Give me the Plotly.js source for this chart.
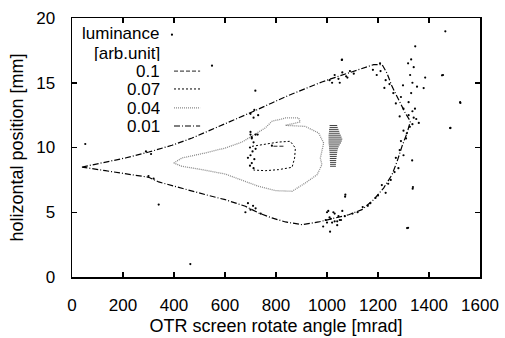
<!DOCTYPE html>
<html>
<head>
<meta charset="utf-8">
<script src="https://cdn.plot.ly/plotly-3.0.1.min.js"></script>
<style>html,body{margin:0;padding:0;background:#fff;}#chart{width:505px;height:338px;}</style>
</head>
<body>
<div id="chart"></div>
<script>
// contour level labels
const levels = ["0.1", "0.07", "0.04", "0.01"];

// luminance 0.01 contour (outer)
const c001_x = [39,131,209,301,392,471,549,627,706,784,850,915,980,1033,1085,1137,1183,1216,1235,1255,1281,1307,1327,1314,1294,1275,1255,1222,1183,1137,1085,1033,967,902,837,784,732,680,601,523,431,340,301,209,131,39];
const c001_y = [8.49,8.88,9.19,9.65,10.17,10.73,11.38,12.07,12.74,13.44,14.03,14.54,15.06,15.42,15.75,16.09,16.40,16.40,15.75,14.72,13.69,12.66,12.02,11.12,10.09,8.93,7.90,6.87,5.97,5.20,4.81,4.56,4.25,4.04,4.25,4.56,4.94,5.46,5.97,6.36,6.87,7.34,7.70,7.95,8.21,8.49];

// luminance 0.04 contour
const c004_x = [399,431,523,601,667,712,758,784,837,889,895,837,915,967,987,974,980,961,915,863,797,732,680,601,510,431,399];
const c004_y = [8.80,9.19,9.58,9.96,10.42,10.99,11.51,12.02,12.28,12.28,11.97,11.71,11.63,11.12,10.35,9.19,8.67,7.90,7.26,6.62,6.67,7.00,7.39,7.95,8.29,8.55,8.80];

// luminance 0.07 contour
const c007_x = [706,758,810,856,876,873,863,810,758,712];
const c007_y = [10.09,10.27,10.42,10.48,9.96,9.19,8.47,8.29,8.21,8.26];

// luminance 0.1 contour
const c01_x = [790,830];
const c01_y = [10.1,10.1];

// dense striped patch near 1020 mrad (short horizontal strokes)
const hatch_x = [1010,1040,null,1010,1042,null,1008,1045,null,1008,1048,null,1007,1050,null,1006,1054,null,1006,1057,null,1006,1060,null,1006,1058,null,1006,1055,null,1007,1050,null,1008,1046,null,1008,1043,null,1009,1041,null,1010,1040,null,1010,1039,null,1011,1038,null,1011,1037,null,1011,1036,null,1012,1036,null,1012,1035,null,1012,1035];
const hatch_y = [11.70,11.70,null,11.55,11.55,null,11.40,11.40,null,11.25,11.25,null,11.10,11.10,null,10.95,10.95,null,10.80,10.80,null,10.65,10.65,null,10.50,10.50,null,10.35,10.35,null,10.20,10.20,null,10.05,10.05,null,9.90,9.90,null,9.75,9.75,null,9.60,9.60,null,9.45,9.45,null,9.30,9.30,null,9.15,9.15,null,9.00,9.00,null,8.85,8.85,null,8.70,8.70,null,8.55,8.55];

// scattered noise points
const noise_x = [392,1464,1346,1059,549,719,1523,1484,1379,52,340,464,1336,1314,1072,1451,784,
  1058,1208,1318,1326,1298,1353,1385,1455,1522,1483,1313,1334,1337,1318,1071,1012,
  1180,1195,1210,1230,1245,1225,1260,1270,1290,1300,1285,1320,1335,1340,1325,1300,1310,1290,1285,1300,1270,1280,1265,1250,1240,1215,1230,1200,1190,1170,1160,1140,1120,1100,1070,1060,1040,1030,1020,1010,1000,995,985,1050,
  1010,1030,1045,1060,1075,1090,1105,1020,1050,1080,1320,1330,1335,1340,1330,1345,1335,1350,1360,
  700,705,712,698,708,700,715,705,698,712,720,690,
  700,715,730,705,720,700,712,728,290,310,300,320,690,710,700,720,740,680,
  1000,1015,1030,1045,1005,1025,1040,1055];
const noise_y = [18.71,18.97,17.81,16.78,16.32,14.39,13.44,11.51,14.59,10.27,5.59,1.00,6.82,3.78,6.36,15.57,10.14,
  16.76,16.5,16.5,15.6,14.8,14.7,15.4,15.6,13.5,11.5,11.1,9.0,6.95,3.8,6.2,3.5,
  16.0,15.6,15.9,15.2,14.9,14.6,14.2,13.4,13.9,13.0,12.4,12.5,11.8,12.3,11.6,11.3,10.7,10.5,9.8,9.4,9.2,8.4,8.1,7.5,7.2,7.1,6.5,6.3,6.1,5.7,5.5,5.4,5.0,4.9,4.7,5.1,4.3,4.9,4.2,4.6,5.0,4.4,3.9,4.4,
  15.2,15.6,15.3,15.8,15.5,15.9,15.7,15.0,15.0,15.4,13.5,14.2,15.0,16.2,16.8,13.0,12.8,12.2,11.9,
  11.0,10.7,10.4,10.0,9.7,9.4,9.1,8.8,8.6,8.4,9.9,9.2,
  12.6,12.9,12.5,10.8,11.0,11.2,12.3,11.0,9.7,9.5,7.8,7.6,5.7,5.5,5.2,5.3,4.9,5.0,
  4.2,4.5,4.3,4.7,5.1,5.0,4.0,4.4];

const FONT = "Liberation Sans, Arial, sans-serif";
const styles = [
  {color: "#222", dash: "4px,2px", width: 1},
  {color: "#000", dash: "2px,2px", width: 1},
  {color: "#8a8a8a", dash: "1px,1px", width: 1.3},
  {color: "#000", dash: "6px,2px,1px,2px", width: 1.2}
];
const xs = [c01_x, c007_x, c004_x, c001_x];
const ys = [c01_y, c007_y, c004_y, c001_y];

const traces = levels.map((lv, i) => ({
  x: xs[i], y: ys[i], type: "scatter", mode: "lines", name: lv,
  line: styles[i], showlegend: false, hoverinfo: "skip"
}));
traces.push({x: hatch_x, y: hatch_y, type: "scatter", mode: "lines", connectgaps: false,
  line: {color: "#444", width: 1}, showlegend: false, hoverinfo: "skip"});
traces.push({x: noise_x, y: noise_y, type: "scatter", mode: "markers",
  marker: {color: "#000", size: 2.2}, showlegend: false, hoverinfo: "skip"});

// legend drawn gnuplot-style: right-aligned text, sample to the right
const legY = [0.795, 0.726, 0.653, 0.583];
const annotations = [
  {text: "luminance", x: 0.218, y: 0.942},
  {text: "[arb.unit]", x: 0.218, y: 0.865}
].concat(levels.map((lv, i) => ({text: lv, x: 0.218, y: legY[i]})))
 .map(a => Object.assign(a, {xref: "paper", yref: "paper", xanchor: "right", yanchor: "middle",
   showarrow: false, borderpad: 0, height: 16, valign: "middle",
   font: {family: FONT, size: 17, color: "#000"}}));
const shapes = levels.map((lv, i) => ({
  type: "line", xref: "paper", yref: "paper", x0: 0.25, x1: 0.314, y0: legY[i], y1: legY[i],
  line: styles[i]
}));

const axisCommon = {
  showline: true, linecolor: "#000", linewidth: 1.5, mirror: "allticks",
  ticks: "inside", ticklen: 5, tickwidth: 1.5, tickcolor: "#000",
  showgrid: false, zeroline: false,
  tickfont: {family: FONT, size: 17, color: "#000"}
};
const layout = {
  width: 505, height: 338,
  margin: {l: 72, r: 25, t: 18, b: 61},
  paper_bgcolor: "#fff", plot_bgcolor: "#fff",
  font: {family: FONT, size: 17, color: "#000"},
  xaxis: Object.assign({}, axisCommon, {range: [0, 1600], dtick: 200, tick0: 0,
    ticklabelstandoff: 12,
    title: {text: "OTR screen rotate angle [mrad]", font: {family: FONT, size: 18}, standoff: 5}}),
  yaxis: Object.assign({}, axisCommon, {range: [0, 20], dtick: 5, tick0: 0,
    ticklabelstandoff: 12,
    title: {text: "holizontal position [mm]", font: {family: FONT, size: 18}, standoff: 8}}),
  annotations: annotations,
  shapes: shapes,
  showlegend: false
};
Plotly.newPlot("chart", traces, layout, {staticPlot: true});
</script>
</body>
</html>
